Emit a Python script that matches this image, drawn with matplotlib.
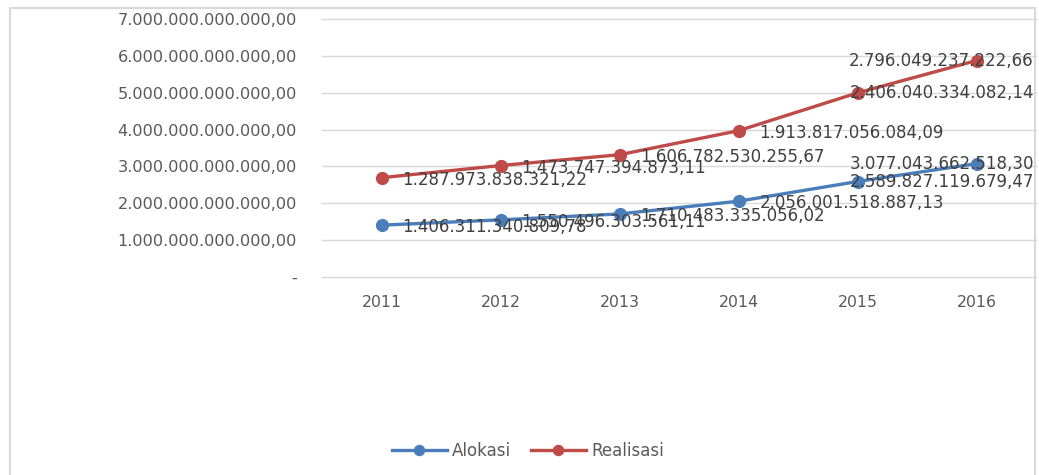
import matplotlib
matplotlib.use("Agg")
import matplotlib.pyplot as plt
import matplotlib.transforms as mtransforms
from matplotlib.patches import Rectangle

years = ["2011", "2012", "2013", "2014", "2015", "2016"]
alokasi = [1406311340809.78, 1550496303561.11, 1710483335056.02,
           2056001518887.13, 2589827119679.47, 3077043662518.30]
realisasi = [1287973838321.22, 1473747394873.11, 1606782530255.67,
             1913817056084.09, 2406040334082.14, 2796049237222.66]
y_ticks = [0, 1e12, 2e12, 3e12, 4e12, 5e12, 6e12, 7e12]

BLUE = "#4A7EBB"
RED = "#BE4B48"
TXT = "#595959"
LBL = "#404040"


def idn(v):
    # Indonesian number format: 1.234.567,89
    s = f"{v:,.2f}"
    return s.replace(",", "_").replace(".", ",").replace("_", ".")


plt.rcParams["font.family"] = ["DejaVu Sans"]

fig = plt.figure(figsize=(10.39, 4.75), dpi=100)
ax = fig.add_axes([322 / 1039, 1 - 277 / 475, (1036 - 322) / 1039, (277 - 19) / 475])

x = list(range(len(years)))
stacked = [a + r for a, r in zip(alokasi, realisasi)]

ax.plot(x, alokasi, color=BLUE, lw=2.4, marker="o", ms=8.5, label="Alokasi", zorder=3)
ax.plot(x, stacked, color=RED, lw=2.4, marker="o", ms=8.5, label="Realisasi", zorder=3)

ax.set_xlim(-0.5, len(years) - 0.5)
ax.set_ylim(0, 7e12)
ax.set_yticks(y_ticks)
ax.set_yticklabels(["-" if t == 0 else idn(t) for t in y_ticks])
ax.set_xticks(x)
ax.set_xticklabels(years)
ax.tick_params(axis="y", length=0, pad=18, labelsize=11.6, labelcolor=TXT)
ax.tick_params(axis="x", length=0, pad=13, labelsize=11.3, labelcolor=TXT)
ax.grid(axis="y", color="#D9D9D9", lw=1)
for gl in ax.yaxis.get_gridlines():
    gl.set_clip_on(False)
ax.set_axisbelow(True)
for s in ax.spines.values():
    s.set_visible(False)

# data labels: right of the point, squeezed to the right edge near the end
blend = mtransforms.blended_transform_factory(ax.transAxes, ax.transData)
n = len(years)
for series, ypos in ((realisasi, stacked), (alokasi, alokasi)):
    for i, (val, yv) in enumerate(zip(series, ypos)):
        if i >= n - 2:
            ax.text(0.997, yv, idn(val), transform=blend, ha="right", va="center",
                    fontsize=12, color=LBL, zorder=4)
        else:
            ax.annotate(idn(val), (i, yv), xytext=(15, -1.5), textcoords="offset points",
                        ha="left", va="center", fontsize=12, color=LBL, zorder=4)

leg = fig.legend(loc="center", bbox_to_anchor=(0.508, 0.05), ncol=2, frameon=False,
                 fontsize=12, handlelength=3.3, columnspacing=1.2, handletextpad=0.3,
                 markerscale=0.85)
for t in leg.get_texts():
    t.set_color(TXT)

fig.patches.append(Rectangle((10 / 1039, -0.02), (1035 - 10) / 1039, (475 - 8) / 475 + 0.02,
                             transform=fig.transFigure, fill=False, ec="#D9D9D9", lw=1.5))

fig.savefig("out.png", dpi=100)
plt.close(fig)
